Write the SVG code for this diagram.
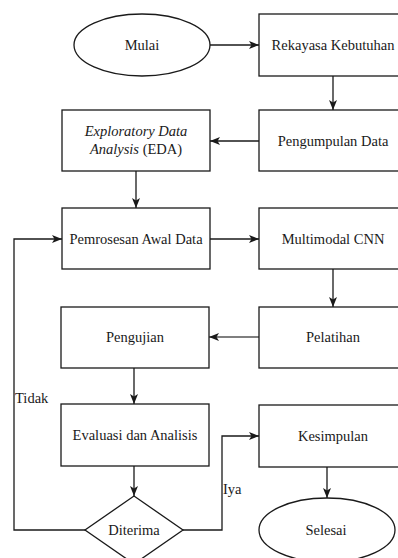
<svg xmlns="http://www.w3.org/2000/svg" width="398" height="558" viewBox="0 0 398 558">
<style>
.shape{fill:#fff;stroke:#1a1a1a;stroke-width:1.3}
.conn{fill:none;stroke:#1a1a1a;stroke-width:1.3}
text{font-family:'Liberation Serif','DejaVu Serif',serif;font-size:14.5px;fill:#1a1a1a}
.lbl{text-anchor:middle}
</style>
<defs>
<marker id="arr" viewBox="0 0 10 8" markerWidth="10" markerHeight="8" refX="10" refY="4" orient="auto" markerUnits="userSpaceOnUse">
<path d="M0,0 L10,4 L0,8 L2.5,4 Z" fill="#1a1a1a"/>
</marker>
</defs>
<rect width="398" height="558" fill="#fff"/>
<g id="connectors">
<path class="conn" d="M210,45 H259" marker-end="url(#arr)"/>
<path class="conn" d="M333,76 V110" marker-end="url(#arr)"/>
<path class="conn" d="M259,141 H210" marker-end="url(#arr)"/>
<path class="conn" d="M136,171 V208" marker-end="url(#arr)"/>
<path class="conn" d="M210,239 H259" marker-end="url(#arr)"/>
<path class="conn" d="M333,269 V307" marker-end="url(#arr)"/>
<path class="conn" d="M259,337 H209" marker-end="url(#arr)" style="stroke:#555"/>
<path class="conn" d="M134,368 V404" marker-end="url(#arr)"/>
<path class="conn" d="M134,466 V496" marker-end="url(#arr)"/>
<path class="conn" d="M85,530 H14 V239 H62" marker-end="url(#arr)"/>
<path class="conn" d="M183,530 H222 V436 H259" marker-end="url(#arr)"/>
<path class="conn" d="M327,467 V498" marker-end="url(#arr)"/>
<text font-family="Liberation Serif, serif" x="15" y="403">Tidak</text>
<text font-family="Liberation Serif, serif" x="223" y="494">Iya</text>
</g>
<g id="mulai">
<ellipse class="shape" cx="142" cy="45" rx="68" ry="31"/>
<text class="lbl" x="142" y="50">Mulai</text>
</g>
<g id="rekayasa">
<rect class="shape" x="259" y="14" width="148" height="62"/>
<text class="lbl" x="333" y="50">Rekayasa Kebutuhan</text>
</g>
<g id="pengumpulan">
<rect class="shape" x="259" y="110" width="148" height="61"/>
<text class="lbl" x="333" y="146">Pengumpulan Data</text>
</g>
<g id="eda">
<rect class="shape" x="62" y="110" width="148" height="61"/>
<text class="lbl" x="136" y="136"><tspan font-style="italic">Exploratory Data</tspan></text>
<text class="lbl" x="136" y="154"><tspan font-style="italic">Analysis</tspan> (EDA)</text>
</g>
<g id="pemrosesan">
<rect class="shape" x="62" y="208" width="148" height="61"/>
<text class="lbl" x="136" y="244">Pemrosesan Awal Data</text>
</g>
<g id="multimodal">
<rect class="shape" x="259" y="208" width="148" height="61"/>
<text class="lbl" x="333" y="244">Multimodal CNN</text>
</g>
<g id="pengujian">
<rect class="shape" x="61" y="307" width="148" height="61"/>
<text class="lbl" x="135" y="342">Pengujian</text>
</g>
<g id="pelatihan">
<rect class="shape" x="259" y="307" width="148" height="61"/>
<text class="lbl" x="333" y="342">Pelatihan</text>
</g>
<g id="evaluasi">
<rect class="shape" x="61" y="404" width="148" height="62"/>
<text class="lbl" x="135" y="440">Evaluasi dan Analisis</text>
</g>
<g id="kesimpulan">
<rect class="shape" x="259" y="405" width="148" height="62"/>
<text class="lbl" x="333" y="441">Kesimpulan</text>
</g>
<g id="diterima">
<polygon class="shape" points="134,496 183,530 134,564 85,530"/>
<text class="lbl" x="134" y="535">Diterima</text>
</g>
<g id="selesai">
<ellipse class="shape" cx="327" cy="530" rx="68" ry="32"/>
<text class="lbl" x="326" y="535">Selesai</text>
</g>
</svg>
